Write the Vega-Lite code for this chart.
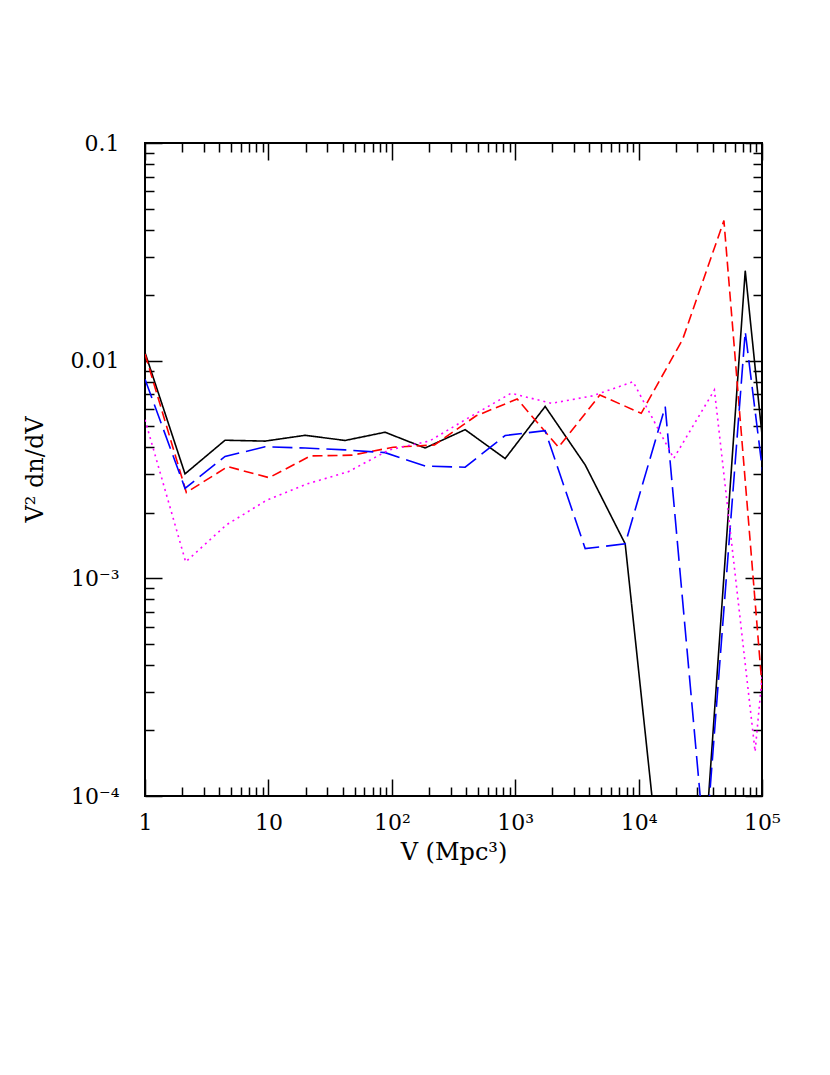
{
  "$schema": "https://vega.github.io/schema/vega-lite/v6.json",
  "width": 617,
  "height": 653,
  "autosize": {"type": "none"},
  "padding": {"left": 145, "top": 143, "right": 68, "bottom": 279},
  "background": "white",
  "config": {
    "view": {"stroke": "black", "strokeWidth": 2},
    "axis": {
      "labelFont": "DejaVu Serif", "titleFont": "DejaVu Serif",
      "labelFontSize": 22, "titleFontSize": 24, "titleFontWeight": "normal",
      "labelColor": "black", "titleColor": "black",
      "tickColor": "black", "tickWidth": 1.5,
      "domain": false, "grid": false, "labelOverlap": false, "labelFlush": false
    }
  },
  "data": {"values": [
    {"s": "a", "V": 1, "f": 0.0109},
    {"s": "a", "V": 2.11, "f": 0.00302},
    {"s": "a", "V": 4.452, "f": 0.00431},
    {"s": "a", "V": 9.394, "f": 0.00427},
    {"s": "a", "V": 19.82, "f": 0.00454},
    {"s": "a", "V": 41.82, "f": 0.0043},
    {"s": "a", "V": 88.25, "f": 0.00469},
    {"s": "a", "V": 186.2, "f": 0.00397},
    {"s": "a", "V": 392.9, "f": 0.00482},
    {"s": "a", "V": 829.0, "f": 0.00355},
    {"s": "a", "V": 1749, "f": 0.00616},
    {"s": "a", "V": 3691, "f": 0.00332},
    {"s": "a", "V": 7787, "f": 0.00144},
    {"s": "a", "V": 16431, "f": 0.0000265},
    {"s": "a", "V": 34669, "f": 0.00006},
    {"s": "a", "V": 73152, "f": 0.0259},
    {"s": "a", "V": 154350, "f": 0.00041},
    {"s": "b", "V": 1, "f": 0.01074},
    {"s": "b", "V": 2.163, "f": 0.00248},
    {"s": "b", "V": 4.68, "f": 0.00326},
    {"s": "b", "V": 10.12, "f": 0.0029},
    {"s": "b", "V": 21.9, "f": 0.00365},
    {"s": "b", "V": 47.37, "f": 0.00368},
    {"s": "b", "V": 102.5, "f": 0.004},
    {"s": "b", "V": 221.7, "f": 0.0041},
    {"s": "b", "V": 479.6, "f": 0.00557},
    {"s": "b", "V": 1037, "f": 0.00667},
    {"s": "b", "V": 2244, "f": 0.004},
    {"s": "b", "V": 4854, "f": 0.00695},
    {"s": "b", "V": 10500, "f": 0.00573},
    {"s": "b", "V": 22715, "f": 0.0125},
    {"s": "b", "V": 49140, "f": 0.044},
    {"s": "b", "V": 106300, "f": 0.00021},
    {"s": "c", "V": 1, "f": 0.00822},
    {"s": "c", "V": 2.11, "f": 0.00259},
    {"s": "c", "V": 4.452, "f": 0.00363},
    {"s": "c", "V": 9.394, "f": 0.00402},
    {"s": "c", "V": 19.82, "f": 0.00397},
    {"s": "c", "V": 41.82, "f": 0.00389},
    {"s": "c", "V": 88.25, "f": 0.00378},
    {"s": "c", "V": 186.2, "f": 0.00328},
    {"s": "c", "V": 392.9, "f": 0.00324},
    {"s": "c", "V": 829.0, "f": 0.00453},
    {"s": "c", "V": 1749, "f": 0.00477},
    {"s": "c", "V": 3691, "f": 0.00137},
    {"s": "c", "V": 7787, "f": 0.00144},
    {"s": "c", "V": 16431, "f": 0.00615},
    {"s": "c", "V": 34669, "f": 0.000055},
    {"s": "c", "V": 73152, "f": 0.0136},
    {"s": "c", "V": 154350, "f": 0.00045},
    {"s": "d", "V": 1, "f": 0.00535},
    {"s": "d", "V": 2.136, "f": 0.00119},
    {"s": "d", "V": 4.562, "f": 0.00176},
    {"s": "d", "V": 9.745, "f": 0.00229},
    {"s": "d", "V": 20.81, "f": 0.00272},
    {"s": "d", "V": 44.46, "f": 0.00309},
    {"s": "d", "V": 94.97, "f": 0.00389},
    {"s": "d", "V": 202.9, "f": 0.00428},
    {"s": "d", "V": 433.4, "f": 0.00553},
    {"s": "d", "V": 925.6, "f": 0.00708},
    {"s": "d", "V": 1977, "f": 0.00637},
    {"s": "d", "V": 4223, "f": 0.00689},
    {"s": "d", "V": 9021, "f": 0.008},
    {"s": "d", "V": 19270, "f": 0.00356},
    {"s": "d", "V": 41160, "f": 0.00733},
    {"s": "d", "V": 87900, "f": 0.00016},
    {"s": "d", "V": 187760, "f": 0.016}
  ]},
  "layer": [
    {
      "mark": {"type": "line", "clip": true, "strokeWidth": 1.6},
      "encoding": {
        "x": {
          "field": "V", "type": "quantitative",
          "scale": {"type": "log", "domain": [1, 100000], "nice": false},
          "axis": {
            "orient": "bottom",
            "title": "V (Mpc³)",
            "titleX": 308.5, "titleY": 63, "titleBaseline": "alphabetic", "titleAlign": "center",
            "values": [1,2,3,4,5,6,7,8,9,10,20,30,40,50,60,70,80,90,100,200,300,400,500,600,700,800,900,1000,2000,3000,4000,5000,6000,7000,8000,9000,10000,20000,30000,40000,50000,60000,70000,80000,90000,100000],
            "labelExpr": "datum.value == 1 ? '1' : datum.value == 10 ? '10' : datum.value == 100 ? '10²' : datum.value == 1000 ? '10³' : datum.value == 10000 ? '10⁴' : datum.value == 100000 ? '10⁵' : ''",
            "tickSize": {"condition": {"test": "datum.value == 1 || datum.value == 10 || datum.value == 100 || datum.value == 1000 || datum.value == 10000 || datum.value == 100000", "value": -17}, "value": -9},
            "labelPadding": 33,
            "labelBaseline": "top"
          }
        },
        "y": {
          "field": "f", "type": "quantitative",
          "scale": {"type": "log", "domain": [0.0001, 0.1], "nice": false},
          "axis": {
            "orient": "left",
            "title": "V² dn/dV",
            "titleX": -110, "titleY": 326, "titleBaseline": "middle", "titleAlign": "center", "titleAngle": 270,
            "values": [0.0001,0.0002,0.0003,0.0004,0.0005,0.0006,0.0007,0.0008,0.0009,0.001,0.002,0.003,0.004,0.005,0.006,0.007,0.008,0.009,0.01,0.02,0.03,0.04,0.05,0.06,0.07,0.08,0.09,0.1],
            "labelExpr": "datum.value == 0.1 ? '0.1' : datum.value == 0.01 ? '0.01' : datum.value == 0.001 ? '10⁻³' : datum.value == 0.0001 ? '10⁻⁴' : ''",
            "tickSize": {"condition": {"test": "datum.value == 0.1 || datum.value == 0.01 || datum.value == 0.001 || datum.value == 0.0001", "value": -17}, "value": -9},
            "labelPadding": 43,
            "labelBaseline": "middle"
          }
        },
        "color": {"field": "s", "type": "nominal", "scale": {"domain": ["a", "b", "c", "d"], "range": ["#000000", "#ff0000", "#0000ff", "#ff00ff"]}, "legend": null},
        "strokeDash": {"field": "s", "type": "nominal", "scale": {"domain": ["a", "b", "c", "d"], "range": [[1, 0], [10, 5], [20, 7], [2, 4]]}, "legend": null}
      }
    },
    {
      "mark": {"type": "point", "opacity": 0, "clip": true},
      "encoding": {
        "x": {
          "field": "V", "type": "quantitative",
          "scale": {"type": "log", "domain": [1, 100000], "nice": false},
          "axis": {
            "orient": "top", "title": null, "labels": false,
            "values": [1,2,3,4,5,6,7,8,9,10,20,30,40,50,60,70,80,90,100,200,300,400,500,600,700,800,900,1000,2000,3000,4000,5000,6000,7000,8000,9000,10000,20000,30000,40000,50000,60000,70000,80000,90000,100000],
            "tickSize": {"condition": {"test": "datum.value == 1 || datum.value == 10 || datum.value == 100 || datum.value == 1000 || datum.value == 10000 || datum.value == 100000", "value": -17}, "value": -9}
          }
        },
        "y": {
          "field": "f", "type": "quantitative",
          "scale": {"type": "log", "domain": [0.0001, 0.1], "nice": false},
          "axis": {
            "orient": "right", "title": null, "labels": false,
            "values": [0.0001,0.0002,0.0003,0.0004,0.0005,0.0006,0.0007,0.0008,0.0009,0.001,0.002,0.003,0.004,0.005,0.006,0.007,0.008,0.009,0.01,0.02,0.03,0.04,0.05,0.06,0.07,0.08,0.09,0.1],
            "tickSize": {"condition": {"test": "datum.value == 0.1 || datum.value == 0.01 || datum.value == 0.001 || datum.value == 0.0001", "value": -17}, "value": -9}
          }
        }
      }
    }
  ],
  "resolve": {"axis": {"x": "independent", "y": "independent"}}
}
